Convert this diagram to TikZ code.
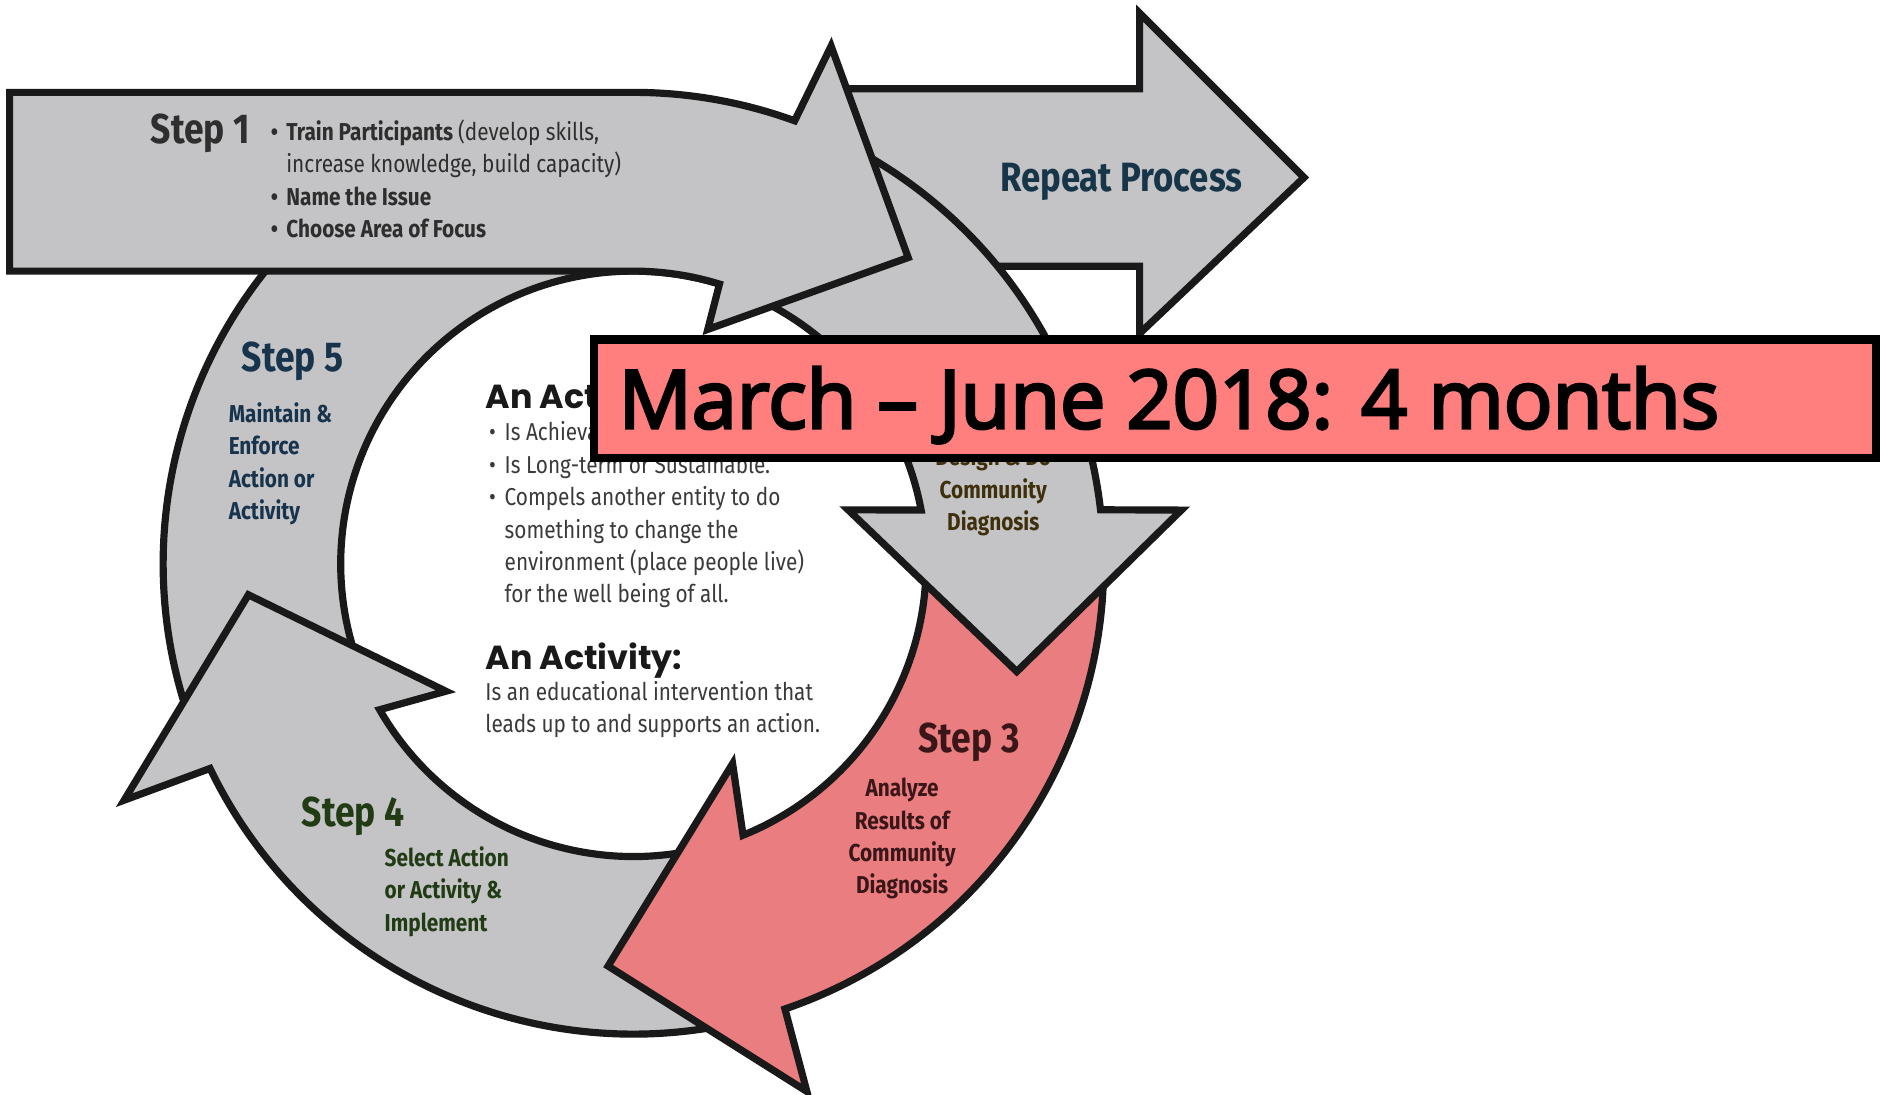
\documentclass[tikz,border=0pt]{standalone}
\usepackage{fontspec}
\usepackage{tikz}
\usetikzlibrary{positioning}
\newfontfamily\condfont[FakeStretch=0.85]{Fira Sans}
\newfontfamily\headfont{Poppins}
\newfontfamily\bannerfont[FakeBold=3.5]{Open Sans}
\definecolor{ringgray}{HTML}{C4C4C6}
\definecolor{steppink}{HTML}{E97D7F}
\definecolor{bannerpink}{HTML}{FF7F7F}
\definecolor{onetext}{HTML}{2E2E2E}
\definecolor{twotext}{HTML}{3F300C}
\definecolor{threetext}{HTML}{3A1618}
\definecolor{fourtext}{HTML}{213B14}
\definecolor{fivetext}{HTML}{17344C}
\definecolor{repeattext}{HTML}{173548}
\definecolor{midtext}{HTML}{3A3A3A}
\newcommand{\itembul}{\makebox[1.3mm][l]{\textbullet}}
\tikzset{ring/.style={draw=black!90,line width=1.7pt,line join=miter,fill=ringgray},
	 pinkring/.style={ring,fill=steppink},
	 stepnum/.style={font=\condfont\bfseries\fontsize{9.9}{11}\selectfont,inner sep=0pt,anchor=base west},
	 stepbody/.style={font=\condfont\bfseries\fontsize{5.8}{7.68}\selectfont,inner sep=0pt,align=left},
	 midbody/.style={font=\condfont\fontsize{5.8}{7.68}\selectfont,inner sep=0pt,align=left,text=midtext,anchor=north west},
	 midhead/.style={font=\headfont\bfseries\fontsize{7.9}{9}\selectfont,inner sep=0pt,text=black!90,anchor=north west}
	 }

\begin{document}
\begin{tikzpicture} % community action cycle
        \useasboundingbox (0,0) rectangle (15.68,9.12);
        \coordinate (c) at (5.28,4.42);
        \draw[ring] (7.00,8.38) -- (9.50,8.38) -- (9.50,9.01) -- (10.87,7.64) -- (9.50,6.34) -- (9.50,6.90) -- (7.00,6.90) -- cycle;
        \begin{scope}[shift={(c)}]
        \draw[ring] (200:3.92) arc[start angle=200,end angle=92,radius=3.92] -- (92:2.44) arc[start angle=92,end angle=200,radius=2.44] -- cycle;
        \draw[ring] (-75:3.92) arc[start angle=-75,end angle=-154.2,radius=3.92] -- (-155.1:4.68) -- (-175.4:3.22) -- (-145.8:1.89) -- (-150.1:2.44) arc[start angle=-150.1,end angle=-75,radius=2.44] -- cycle;
        \draw[pinkring] (5:3.92) arc[start angle=5,end angle=-71.2,radius=3.92] -- (-71.8:4.63) -- (-93.6:3.36) -- (-63.6:1.86) -- (-68:2.44) arc[start angle=-68,end angle=5,radius=2.44] -- cycle;
        \draw[ring] (92:3.92) arc[start angle=92,end angle=6.6,radius=3.92] -- (5.6:4.59) -- (-15.7:3.32) -- (14.1:1.846) -- (10.6:2.44) arc[start angle=10.6,end angle=92,radius=2.44] -- cycle;
        \draw[ring] (-5.20,2.44) -- (-5.20,3.93) -- (90:3.93) arc[start angle=90,end angle=70,radius=3.93] -- (69.1:4.62) -- (48.1:3.43) -- (72.4:2.05) -- (72.9:2.44) arc[start angle=72.9,end angle=90,radius=2.44] -- cycle;
        \end{scope}
        \node[stepnum,text=onetext] (s1) at (1.25,7.92) {Step 1};
        \node[stepbody,text=onetext,anchor=north west] (s1list) at (2.25,8.13) {\itembul Train Participants {\mdseries(develop skills,}\\\hspace*{1.3mm}{\mdseries increase knowledge, build capacity)}\\\itembul Name the Issue\\\itembul Choose Area of Focus};
        \node[stepnum,text=repeattext,font=\condfont\bfseries\fontsize{9.7}{11}\selectfont] (rep) at (8.33,7.52) {Repeat Process};
        \node[stepbody,text=twotext,align=center,anchor=north] (s2body) at (8.28,5.41) {Design \& Do\\Community\\Diagnosis};
        \node[stepnum,text=threetext] (s3) at (7.65,2.85) {Step 3};
        \node[stepbody,text=threetext,align=center,anchor=north] (s3body) at (7.52,2.64) {Analyze\\Results of\\Community\\Diagnosis};
        \node[stepnum,text=fourtext] (s4) at (2.51,2.23) {Step 4};
        \node[stepbody,text=fourtext,anchor=north west] (s4body) at (3.20,2.07) {Select Action\\or Activity \&\\Implement};
        \node[stepnum,text=fivetext] (s5) at (2.01,6.02) {Step 5};
        \node[stepbody,text=fivetext,anchor=north west] (s5body) at (1.90,5.77) {Maintain \&\\Enforce\\Action or\\Activity};
        \node[midhead] (action) at (4.04,5.94) {An Action:};
        \node[midbody] (actionlist) at (4.07,5.61) {\itembul Is Achievable.\\\itembul Is Long-term or Sustainable.\\\itembul Compels another entity to do\\\hspace*{1.3mm}something to change the\\\hspace*{1.3mm}environment (place people live)\\\hspace*{1.3mm}for the well being of all.};
        \node[midhead] (activity) at (4.04,3.77) {An Activity:};
        \node[midbody] (activitytext) at (4.04,3.45) {Is an educational intervention that\\leads up to and supports an action.};
        \draw[draw=black,line width=2pt,fill=bannerpink] (4.95,5.30) rectangle (15.64,6.29);
        \node[font=\bannerfont\fontsize{19.2}{22}\selectfont,inner sep=0pt,anchor=base west] (banner) at (5.15,5.55) {March – June 2018: 4 months};
     \end{tikzpicture}
\end{document}
